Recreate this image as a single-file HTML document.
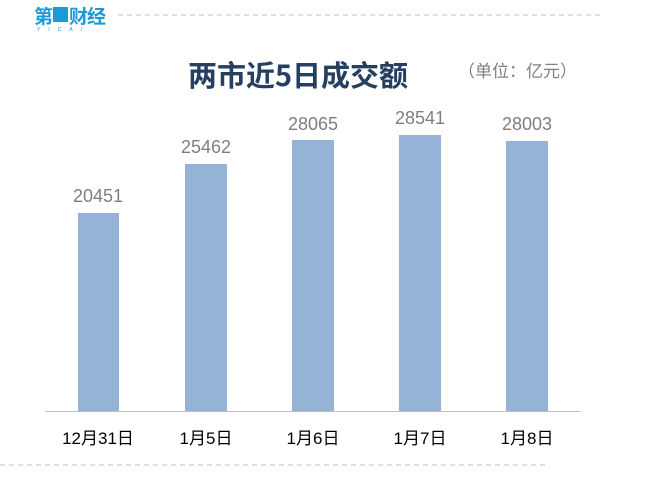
<!DOCTYPE html>
<html><head><meta charset="utf-8"><style>
html,body{margin:0;padding:0;background:#fff;}
body{width:666px;height:494px;position:relative;overflow:hidden;font-family:"Liberation Sans","Noto Sans CJK SC",sans-serif;}
</style></head><body>
<svg width="666" height="494" xmlns="http://www.w3.org/2000/svg" style="position:absolute;left:0;top:0">
<line x1="118" y1="15" x2="602" y2="15" stroke="#bfbfbf" stroke-width="1" stroke-dasharray="5,4"/>
<line x1="0" y1="465" x2="548" y2="465" stroke="#bfbfbf" stroke-width="1" stroke-dasharray="5,4"/>
<g font-family="'Liberation Sans','Noto Sans CJK SC',sans-serif">
<text x="34" y="23" font-size="19" font-weight="bold" fill="#1a9ad9" letter-spacing="-1">第</text>
<rect x="53" y="7" width="15" height="15" fill="#1a9ad9"/>
<text x="69" y="23" font-size="19" font-weight="bold" fill="#1a9ad9" letter-spacing="-1">财经</text>
<text x="37" y="31" font-size="5" fill="#1a9ad9" letter-spacing="8">YICAI</text>
<text x="298" y="86" font-size="29" font-weight="bold" fill="#243f60" text-anchor="middle" font-family="'Noto Sans CJK SC',sans-serif">两市近5日成交额</text>
<text x="458" y="77" font-size="17" fill="#808080" font-family="'Noto Sans CJK SC',sans-serif">（单位：亿元）</text>
</g>
<g fill="#95b3d7">
<rect x="78" y="213" width="41" height="198"/>
<rect x="185" y="164" width="42" height="247"/>
<rect x="292" y="140" width="42" height="271"/>
<rect x="399" y="135" width="42" height="276"/>
<rect x="506" y="141" width="42" height="270"/>
</g>
<line x1="45" y1="411.5" x2="580" y2="411.5" stroke="#bfbfbf" stroke-width="1"/>
<g font-size="18" fill="#7f7f7f" text-anchor="middle" font-family="'Liberation Sans',sans-serif">
<text x="98" y="202">20451</text>
<text x="206" y="153">25462</text>
<text x="313" y="130">28065</text>
<text x="420" y="124">28541</text>
<text x="527" y="130">28003</text>
</g>
<g font-size="17" fill="#000" text-anchor="middle" font-family="'Liberation Sans','Noto Sans CJK SC',sans-serif">
<text x="98" y="444">12月31日</text>
<text x="206" y="444">1月5日</text>
<text x="313" y="444">1月6日</text>
<text x="420" y="444">1月7日</text>
<text x="527" y="444">1月8日</text>
</g>
</svg>
</body></html>
